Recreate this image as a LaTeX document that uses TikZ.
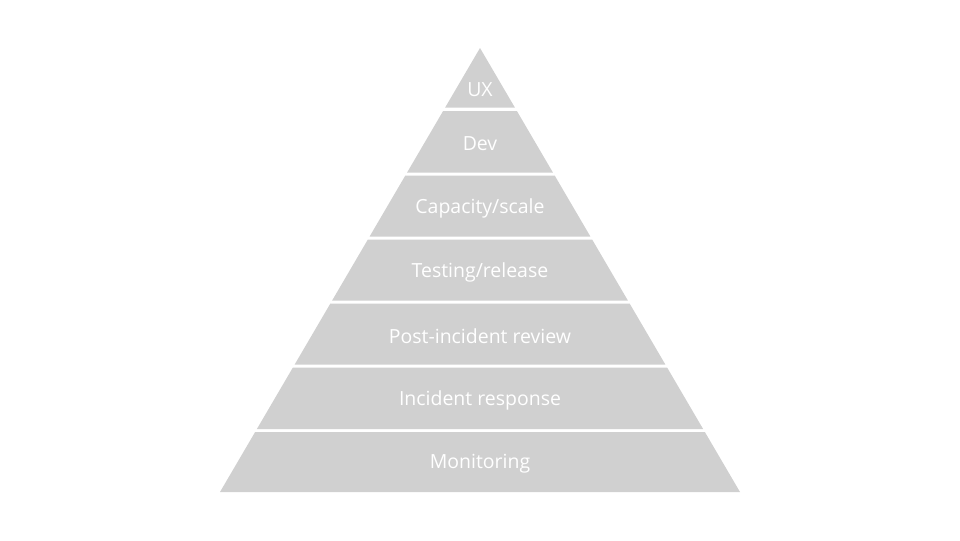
\documentclass[tikz,border=0pt]{standalone}
\usepackage{fontspec}
\setmainfont{Open Sans}
\definecolor{bandgray}{RGB}{208,208,208}
\newcommand{\pyrband}[5]{%
  \fill[bandfill] ({480-0.585586*(#1-48)},#1) -- ({480+0.585586*(#1-48)},#1)
    -- ({480+0.585586*(#2-48)},#2) -- ({480-0.585586*(#2-48)},#2) -- cycle;
  \node[bandlabel] (#4) at (480,#5) {#3};}
\begin{document}
\begin{tikzpicture}[x=0.75pt,y=-0.75pt,
  bandfill/.style={fill=bandgray},
  bandlabel/.style={text=white,font=\fontsize{14.6}{17}\selectfont,inner sep=0pt}]
\useasboundingbox (0,0) rectangle (960,540);
\pyrband{48}{107.5}{UX}{ux}{90}
\pyrband{111}{172.5}{Dev}{dev}{144}
\pyrband{175.5}{236.5}{Capacity/scale}{cap}{208}
\pyrband{239.5}{300.5}{Testing/release}{test}{272}
\pyrband{303.5}{364.5}{Post-incident review}{post}{336}
\pyrband{367.5}{429}{Incident response}{inc}{400}
\pyrband{432}{492}{Monitoring}{mon}{464}
\end{tikzpicture}
\end{document}
